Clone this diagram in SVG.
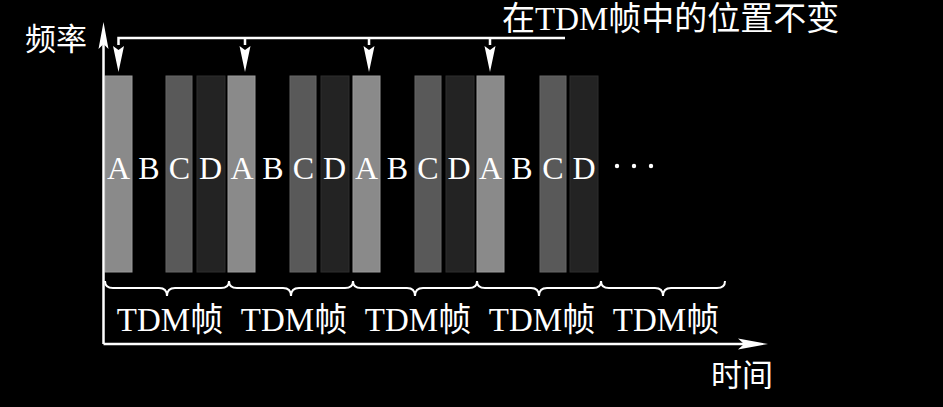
<svg xmlns="http://www.w3.org/2000/svg" width="943" height="407" viewBox="0 0 943 407">
<style>
.bg{fill:#000}
.a{fill:#8a8a8a;stroke:#9a9a9a;stroke-width:1}
.c{fill:#595959;stroke:#666;stroke-width:1}
.d{fill:#232323;stroke:#2e2e2e;stroke-width:1}
.ln{stroke:#fff;stroke-width:2.5;fill:none}
.br{stroke:#fff;stroke-width:2;fill:none}
.hd{fill:#fff}
.lt{font-family:"Liberation Serif","Noto Sans CJK SC",serif;font-size:32px;fill:#fff;text-anchor:middle}
.tf{font-family:"Liberation Serif","Noto Sans CJK SC",serif;font-size:33px;fill:#fff;text-anchor:middle}
.lb{font-family:"Liberation Serif","Noto Sans CJK SC",serif;font-size:33px;fill:#fff}
.cj{font-family:"Noto Sans CJK SC",sans-serif;font-size:31px;fill:#fff}
</style>
<defs>
<path id="dn" d="M0,34 L-5.5,8 L0,12 L5.5,8 Z"/>
</defs>
<rect class="bg" x="0" y="0" width="943" height="407"/>
<g id="bars">
<rect class="a" x="105" y="76" width="27" height="196"/>
<rect class="c" x="166" y="76" width="26" height="196"/>
<rect class="d" x="197" y="76" width="28" height="196"/>
<rect class="a" x="228" y="76" width="27" height="196"/>
<rect class="c" x="290" y="76" width="26" height="196"/>
<rect class="d" x="321" y="76" width="28" height="196"/>
<rect class="a" x="353" y="76" width="27" height="196"/>
<rect class="c" x="415" y="76" width="26" height="196"/>
<rect class="d" x="446" y="76" width="28" height="196"/>
<rect class="a" x="477" y="76" width="27" height="196"/>
<rect class="c" x="540" y="76" width="26" height="196"/>
<rect class="d" x="570" y="76" width="28" height="196"/>
</g>
<g id="letters">
<text class="lt" x="118.5" y="179">A</text>
<text class="lt" x="149" y="179">B</text>
<text class="lt" x="179.5" y="179">C</text>
<text class="lt" x="210.5" y="179">D</text>
<text class="lt" x="242" y="179">A</text>
<text class="lt" x="273" y="179">B</text>
<text class="lt" x="303.5" y="179">C</text>
<text class="lt" x="334.5" y="179">D</text>
<text class="lt" x="366.5" y="179">A</text>
<text class="lt" x="397.5" y="179">B</text>
<text class="lt" x="428" y="179">C</text>
<text class="lt" x="459" y="179">D</text>
<text class="lt" x="490.5" y="179">A</text>
<text class="lt" x="522" y="179">B</text>
<text class="lt" x="553" y="179">C</text>
<text class="lt" x="584" y="179">D</text>
<circle cx="617" cy="166" r="2.2" fill="#fff"/>
<circle cx="634" cy="166" r="2.2" fill="#fff"/>
<circle cx="651" cy="166" r="2.2" fill="#fff"/>
</g>
<g id="connectors">
<path class="ln" d="M103.5,344 L103.5,40"/>
<path class="hd" d="M103.5,22 L108.5,49 L103.5,44 L98.5,49 Z"/>
<path class="ln" d="M103.5,344 L745,344"/>
<path class="hd" d="M768,344 L738,338.5 L744,344 L738,349.5 Z"/>
<path class="ln" d="M118.5,45 L118.5,38 L565,38"/>
<path class="ln" d="M245,38 L245,45 M369,38 L369,45 M490,38 L490,45"/>
<use href="#dn" x="118.5" y="38" class="hd"/>
<use href="#dn" x="245" y="38" class="hd"/>
<use href="#dn" x="369" y="38" class="hd"/>
<use href="#dn" x="490" y="38" class="hd"/>
</g>
<g id="braces">
<path class="br" d="M105,281 Q105,288 113,288 L159,288 Q167,288 167,296 Q167,288 175,288 L221,288 Q229,288 229,281"/>
<path class="br" d="M229,281 Q229,288 237,288 L283,288 Q291,288 291,296 Q291,288 299,288 L345,288 Q353,288 353,281"/>
<path class="br" d="M353,281 Q353,288 361,288 L407,288 Q415,288 415,296 Q415,288 423,288 L469,288 Q477,288 477,281"/>
<path class="br" d="M477,281 Q477,288 485,288 L531,288 Q539,288 539,296 Q539,288 547,288 L593,288 Q601,288 601,281"/>
<path class="br" d="M601,281 Q601,288 609,288 L655,288 Q663,288 663,296 Q663,288 671,288 L717,288 Q725,288 725,281"/>
</g>
<g id="frame-labels">
<text class="tf" x="170" y="331">TDM帧</text>
<text class="tf" x="294" y="331">TDM帧</text>
<text class="tf" x="418" y="331">TDM帧</text>
<text class="tf" x="542" y="331">TDM帧</text>
<text class="tf" x="666" y="331">TDM帧</text>
</g>
<g id="axis-labels">
<text class="cj" x="25" y="50">频率</text>
<text class="cj" x="711" y="386">时间</text>
<text class="lb" x="502" y="30">在TDM帧中的位置不变</text>
</g>
</svg>
